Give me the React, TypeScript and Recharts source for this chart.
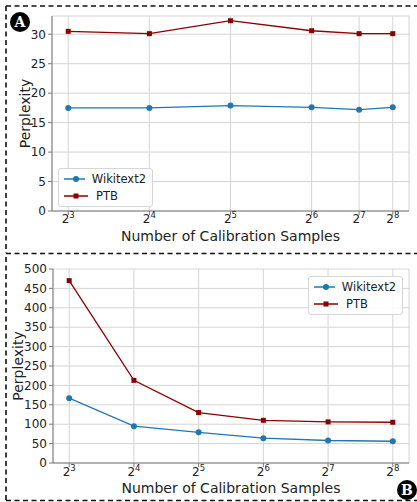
import React from "react";
import {
  LineChart,
  Line,
  XAxis,
  YAxis,
  CartesianGrid,
  Legend,
  ReferenceArea,
} from "recharts";

// panel A: sample counts actually used (axis is log2, labelled 2^3..2^8)
const SAMPLES_A = [8, 16, 32, 64, 96, 128];
const WIKI_A = [17.5, 17.5, 17.9, 17.6, 17.2, 17.6];
const PTB_A = [30.5, 30.1, 32.3, 30.6, 30.1, 30.1];

// panel B
const SAMPLES_B = [8, 16, 32, 64, 128, 256];
const WIKI_B = [167, 95, 79, 64, 58, 56];
const PTB_B = [470, 213, 130, 110, 106, 105];

const TICK_EXP = [3, 4, 5, 6, 7, 8];
const Y_TICKS_A = [0, 5, 10, 15, 20, 25, 30];
const Y_TICKS_B = [0, 50, 100, 150, 200, 250, 300, 350, 400, 450, 500];

const FONT = "'DejaVu Sans', sans-serif";
const BLUE = "#1f77b4";
const RED = "#8b0000";
const FRAME = "#7a7a7a";

const dataA = SAMPLES_A.map((n, i) => ({ n, wiki: WIKI_A[i], ptb: PTB_A[i] }));
const dataB = SAMPLES_B.map((n, i) => ({ n, wiki: WIKI_B[i], ptb: PTB_B[i] }));

// matplotlib-ish 5% padding on a log2 axis
const pad = (arr: number[]) => {
  const span = Math.log2(arr[arr.length - 1]) - Math.log2(arr[0]);
  const k = Math.pow(2, span * 0.05);
  return [arr[0] / k, arr[arr.length - 1] * k];
};

const powTick = (samples: number[], dy: number) => (props: any) => {
  const { x, y, payload } = props;
  const exp = TICK_EXP[samples.indexOf(payload.value)];
  return (
    <text x={x} y={y + dy} textAnchor="middle" fill="#222" fontSize={12} fontFamily={FONT}>
      2<tspan dy={-5} fontSize={8.5}>{exp}</tspan>
    </text>
  );
};

const yLabel = (cx: number) => (props: any) => {
  const vb = props.viewBox || {};
  const cy = vb.y + vb.height / 2;
  return (
    <text
      x={cx}
      y={cy}
      transform={`rotate(-90, ${cx}, ${cy})`}
      textAnchor="middle"
      dominantBaseline="central"
      fontSize={14}
      fill="#222"
      fontFamily={FONT}
    >
      Perplexity
    </text>
  );
};

const Square = (props: any) => {
  const { cx, cy, index } = props;
  return <rect key={`sq-${index}`} x={cx - 2.5} y={cy - 2.5} width={5} height={5} fill={RED} />;
};

const LegendBox = () => (
  <div
    style={{
      background: "rgba(255,255,255,0.85)",
      border: "1px solid #d6d6d6",
      borderRadius: 3,
      padding: "1px 6px 1px 4px",
      fontFamily: FONT,
      fontSize: 11.5,
      color: "#222",
      width: 83,
    }}
  >
    {[
      { name: "Wikitext2", color: BLUE, sq: false },
      { name: "PTB", color: RED, sq: true },
    ].map((it) => (
      <div key={it.name} style={{ display: "flex", alignItems: "center", height: 17.3 }}>
        <svg width={26} height={10} style={{ marginRight: 7 }}>
          <line x1={1} y1={5} x2={25} y2={5} stroke={it.color} strokeWidth={1.5} />
          {it.sq ? (
            <rect x={10.5} y={2.5} width={5} height={5} fill={it.color} />
          ) : (
            <circle cx={13} cy={5} r={3} fill={it.color} />
          )}
        </svg>
        <span>{it.name}</span>
      </div>
    ))}
  </div>
);

const Badge = ({ text, left, top }: { text: string; left: number; top: number }) => (
  <div
    style={{
      position: "absolute",
      left,
      top,
      width: 20,
      height: 20,
      borderRadius: 10,
      background: "#000",
      color: "#fff",
      fontFamily: "'DejaVu Serif', serif",
      fontWeight: "bold",
      fontSize: 14,
      lineHeight: "20px",
      textAlign: "center",
    }}
  >
    {text}
  </div>
);

const axisText = { fontSize: 12, fill: "#222", fontFamily: FONT };

export default function App() {
  return (
    <div style={{ position: "absolute", left: 0, top: 0, width: 417, height: 502, background: "#fff", overflow: "hidden" }}>
      {/* Panel A */}
      <div style={{ position: "absolute", left: 0, top: 0 }}>
        <LineChart width={417} height={253} data={dataA} margin={{ top: 16, right: 8, left: 22, bottom: 2 }}>
          <CartesianGrid stroke="#d4d4d4" strokeWidth={1} />
          <XAxis
            dataKey="n"
            type="number"
            scale="log"
            domain={pad(SAMPLES_A)}
            allowDataOverflow
            ticks={SAMPLES_A}
            interval={0}
            height={40}
            stroke={FRAME}
            tickSize={4}
            tickMargin={2}
            tick={powTick(SAMPLES_A, 6)}
            label={{ value: "Number of Calibration Samples", position: "insideBottom", offset: 10, style: { ...axisText, fontSize: 14 } }}
          />
          <YAxis
            type="number"
            domain={[0, 33.1]}
            allowDataOverflow
            ticks={Y_TICKS_A}
            interval={0}
            width={30}
            stroke={FRAME}
            tickSize={4}
            tickMargin={2}
            tick={axisText}
            label={yLabel(25)}
          />
          <ReferenceArea fill="none" stroke={FRAME} strokeWidth={1} fillOpacity={0} ifOverflow="visible" />
          <Line dataKey="wiki" name="Wikitext2" stroke={BLUE} strokeWidth={1.3} dot={{ r: 3, fill: BLUE, stroke: BLUE, strokeWidth: 0 }} isAnimationActive={false} />
          <Line dataKey="ptb" name="PTB" stroke={RED} strokeWidth={1.3} dot={Square} isAnimationActive={false} />
          <Legend layout="horizontal" verticalAlign="middle" align="center" content={LegendBox} wrapperStyle={{ left: 58, top: 168, width: "auto" }} />
        </LineChart>
      </div>

      {/* Panel B */}
      <div style={{ position: "absolute", left: 0, top: 253 }}>
        <LineChart width={417} height={249} data={dataB} margin={{ top: 16, right: 8, left: 22, bottom: 1 }}>
          <CartesianGrid stroke="#d4d4d4" strokeWidth={1} />
          <XAxis
            dataKey="n"
            type="number"
            scale="log"
            domain={pad(SAMPLES_B)}
            allowDataOverflow
            ticks={SAMPLES_B}
            interval={0}
            height={38}
            stroke={FRAME}
            tickSize={4}
            tickMargin={2}
            tick={powTick(SAMPLES_B, 7)}
            label={{ value: "Number of Calibration Samples", position: "insideBottom", offset: 8, style: { ...axisText, fontSize: 14 } }}
          />
          <YAxis
            type="number"
            domain={[0, 500]}
            allowDataOverflow
            ticks={Y_TICKS_B}
            interval={0}
            width={31}
            stroke={FRAME}
            tickSize={4}
            tickMargin={2}
            tick={axisText}
            label={yLabel(18)}
          />
          <ReferenceArea fill="none" stroke={FRAME} strokeWidth={1} fillOpacity={0} ifOverflow="visible" />
          <Line dataKey="wiki" name="Wikitext2" stroke={BLUE} strokeWidth={1.3} dot={{ r: 3, fill: BLUE, stroke: BLUE, strokeWidth: 0 }} isAnimationActive={false} />
          <Line dataKey="ptb" name="PTB" stroke={RED} strokeWidth={1.3} dot={Square} isAnimationActive={false} />
          <Legend layout="horizontal" verticalAlign="middle" align="center" content={LegendBox} wrapperStyle={{ left: 308, top: 23, width: "auto" }} />
        </LineChart>
      </div>

      {/* dashed panel borders */}
      <svg width={417} height={502} style={{ position: "absolute", left: 0, top: 0, pointerEvents: "none" }}>
        <g stroke="#111" strokeWidth={1.6} strokeDasharray="5 3.5" fill="none">
          <line x1={6} y1={6} x2={417} y2={6} />
          <line x1={6} y1={253.5} x2={417} y2={253.5} />
          <line x1={6} y1={500.5} x2={417} y2={500.5} />
          <line x1={6} y1={6} x2={6} y2={253} />
          <line x1={6} y1={257} x2={6} y2={500} />
        </g>
      </svg>

      <Badge text="A" left={10} top={12} />
      <Badge text="B" left={397} top={480} />
    </div>
  );
}
